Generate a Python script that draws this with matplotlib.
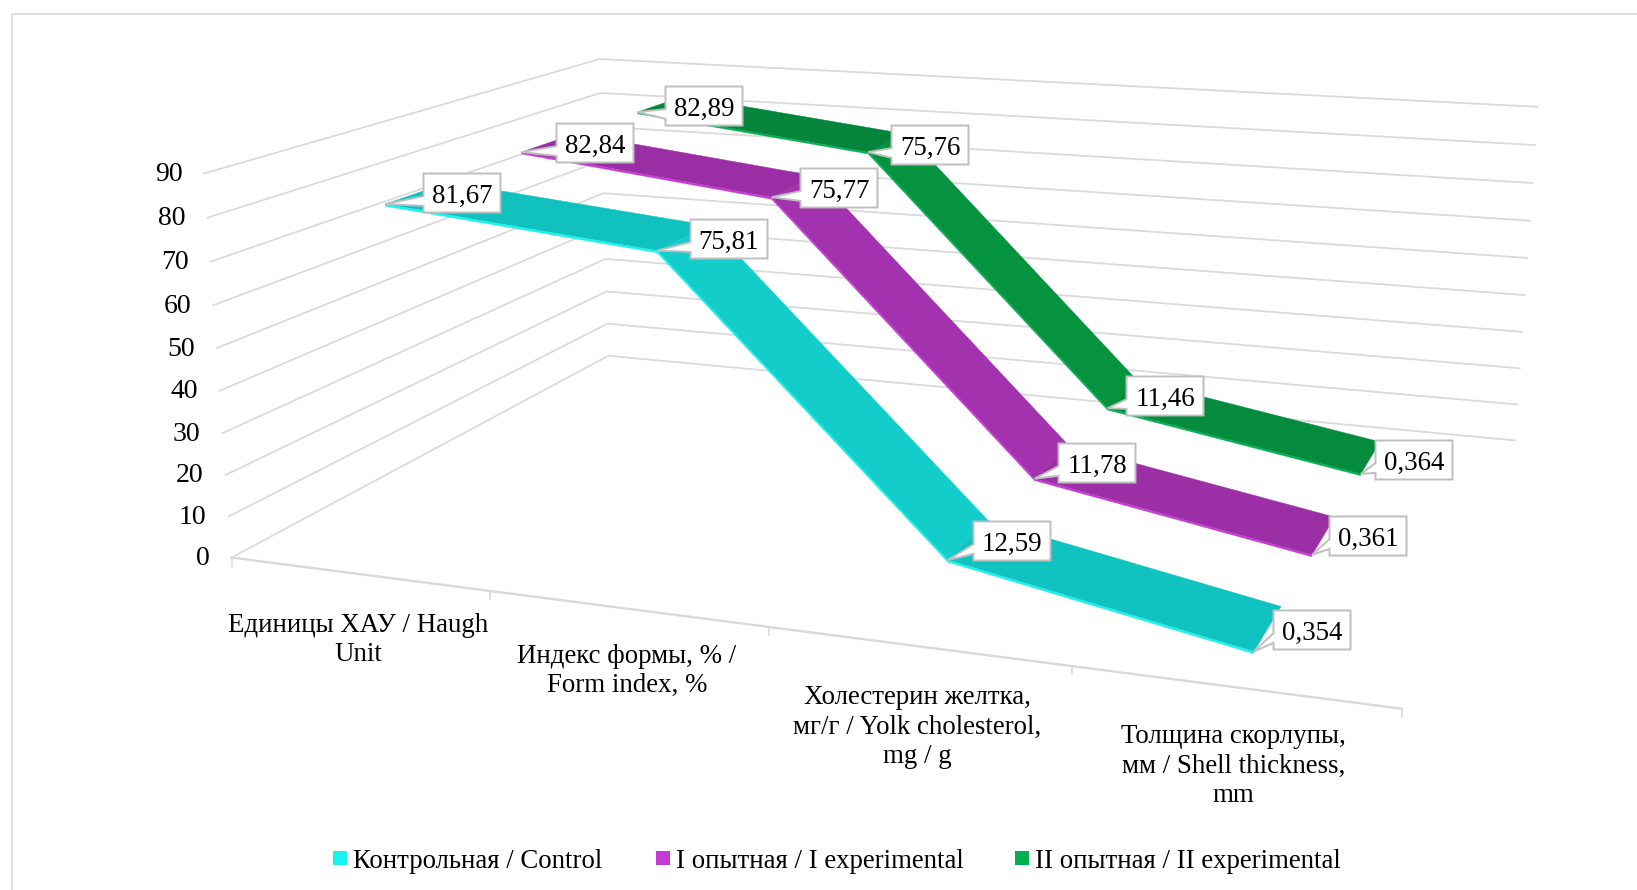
# plot.py
from __future__ import annotations

import numpy as np
import matplotlib

matplotlib.use("Agg")
import matplotlib.pyplot as plt
from matplotlib.patches import Polygon, Rectangle

categories = [
    "Единицы ХАУ / Haugh\nUnit",
    "Индекс формы, % /\nForm index, %",
    "Холестерин желтка,\nмг/г / Yolk cholesterol,\nmg / g",
    "Толщина скорлупы,\nмм / Shell thickness,\nmm",
]
series_names = ["Контрольная / Control", "I опытная / I experimental", "II опытная / II experimental"]
control = [81.67, 75.81, 12.59, 0.354]
experimental_1 = [82.84, 75.77, 11.78, 0.361]
experimental_2 = [82.89, 75.76, 11.46, 0.364]
value_ticks = list(range(0, 100, 10))

W, H = 1637, 890
FONT = "Liberation Serif"
TEXT_SIZE = 19.4
GRID = "#D9D9D9"

# box corners on screen: (category pos, depth, value) -> (x px, y px)
BOX_ANCHORS = [
    ((0, 0, 0), (232, 557)),
    ((0, 0, 50), (216.5, 347)),
    ((0, 0, 90), (204, 174)),
    ((0, 1, 0), (608, 356)),
    ((0, 1, 90), (600, 59)),
    ((4, 1, 0), (1515, 440)),
    ((4, 1, 50), (1527, 258)),
    ((4, 1, 90), (1538, 107)),
    ((4, 0, 0), (1402, 708)),
    ((1, 0, 0), (490, 592)),
    ((2, 0, 0), (769, 627)),
    ((3, 0, 0), (1072, 667)),
]


def fit_camera(anchors) -> np.ndarray:
    # plain DLT, last element of the matrix fixed to 1
    rows, rhs = [], []
    for (u, d, v), (x, y) in anchors:
        rows.append([u, d, v, 1, 0, 0, 0, 0, -x * u, -x * d, -x * v])
        rhs.append(x)
        rows.append([0, 0, 0, 0, u, d, v, 1, -y * u, -y * d, -y * v])
        rhs.append(y)
    p, *_ = np.linalg.lstsq(np.array(rows, float), np.array(rhs, float), rcond=None)
    return np.append(p, 1.0).reshape(3, 4)


CAMERA = fit_camera(BOX_ANCHORS)


def project(u, d, v):
    x, y, w = CAMERA @ np.array([u, d, v, 1.0])
    return x / w, y / w


def draw_walls(ax) -> None:
    for v in value_ticks:
        pts = [project(0, 0, v), project(0, 1, v), project(4, 1, v)]
        ax.plot(*zip(*pts), color=GRID, lw=1.25, solid_joinstyle="miter", zorder=1)
        x, y = pts[0]
        ax.text(x - 22, y + 1, str(v), ha="right", va="center", family=FONT, fontsize=20, color="black")

    ax.plot(*zip(project(0, 0, 0), project(4, 0, 0)), color=GRID, lw=1.7, zorder=1)
    for i in range(5):
        x, y = project(i, 0, 0)
        ax.plot([x, x], [y, y + 8], color=GRID, lw=1.2, zorder=1)


def draw_ribbon(ax, values, d0, width, top_colors, edge_color, z) -> None:
    for i in range(len(values) - 1):
        u0, u1 = i + 0.5, i + 1.5
        v0, v1 = values[i], values[i + 1]
        top = [project(u0, d0, v0), project(u1, d0, v1), project(u1, d0 + width, v1), project(u0, d0 + width, v0)]
        ax.add_patch(Polygon(top, closed=True, fc=top_colors[i], ec=top_colors[i], lw=0.3, zorder=z))
        side = [project(u0, d0, v0), project(u1, d0, v1), project(u1, d0, v1 - SIDE_H), project(u0, d0, v0 - SIDE_H)]
        ax.add_patch(Polygon(side, closed=True, fc=edge_color, ec=edge_color, lw=0.2, zorder=z + 0.1))


def draw_callout(ax, apex, center, value) -> None:
    cx, cy = center
    left, right = cx - BOX_W / 2, cx + BOX_W / 2
    top, bottom = cy - BOX_H / 2, cy + BOX_H / 2
    outline = [
        (left, top),
        (right, top),
        (right, bottom),
        (left, bottom),
        (left, top + 0.83 * BOX_H),
        apex,
        (left, top + 0.58 * BOX_H),
    ]
    ax.add_patch(Polygon(outline, closed=True, fc="white", ec="#BFBFBF", lw=1.4, joinstyle="miter", zorder=10))
    label = f"{value:.3f}" if value < 1 else f"{value:.2f}"
    ax.text(cx, cy, label.replace(".", ","), ha="center", va="center_baseline", family=FONT,
            fontsize=TEXT_SIZE, color="black", zorder=11)


SIDE_H = 0.5
BOX_W, BOX_H = 77, 39

series_values = [control, experimental_1, experimental_2]
series_depths = [0.10, 0.43, 0.77]
series_widths = [0.145, 0.15, 0.155]
top_face_colors = [
    ["#11C1BF", "#13CDCB", "#10C2C0"],
    ["#9A2EA5", "#A232AD", "#9C2FA6"],
    ["#04853B", "#05933F", "#048B3D"],
]
edge_colors = ["#19F2EE", "#C53AD4", "#00AF50"]

# label box centres, one row per series
label_centers = [
    [(462, 193), (729, 239), (1012, 541), (1312, 630)],
    [(595, 143), (839, 188), (1097, 463), (1368, 536)],
    [(704, 106), (930, 145), (1165, 396), (1414, 460)],
]

category_drop = [39, 35, 39, 37]
legend_squares = [333, 656, 1015]
legend_text_x = [353, 676, 1035]
LEGEND_Y = 858


def main() -> None:
    fig = plt.figure(figsize=(W / 100, H / 100), dpi=100)
    ax = fig.add_axes([0, 0, 1, 1])
    ax.set_xlim(0, W)
    ax.set_ylim(H, 0)
    ax.axis("off")

    # chart frame, only top and left sides are in view
    ax.plot([W, 12, 12], [14, 14, H], color="#DEDEDE", lw=1.3, solid_joinstyle="miter", zorder=0)

    draw_walls(ax)

    # back series first so the nearer ribbons overlap it
    for s in (2, 1, 0):
        draw_ribbon(ax, series_values[s], series_depths[s], series_widths[s], top_face_colors[s], edge_colors[s],
                    z=3 + s * -0.5)

    for s in range(3):
        for i, value in enumerate(series_values[s]):
            apex = project(i + 0.5, series_depths[s], value)
            draw_callout(ax, apex, label_centers[s][i], value)

    for i, name in enumerate(categories):
        x, y = project(i + 0.5, 0, 0)
        ax.text(x, y + category_drop[i], name, ha="center", va="top", family=FONT, fontsize=TEXT_SIZE,
                linespacing=1.24, color="black", multialignment="center")

    for i, name in enumerate(series_names):
        ax.add_patch(Rectangle((legend_squares[i], LEGEND_Y - 7), 14, 14, fc=edge_colors[i], ec="none"))
        ax.text(legend_text_x[i], LEGEND_Y, name, ha="left", va="center_baseline", family=FONT, fontsize=19.25,
                color="black")

    fig.savefig("out.png", dpi=100, facecolor="white")
    plt.close(fig)


if __name__ == "__main__":
    main()
